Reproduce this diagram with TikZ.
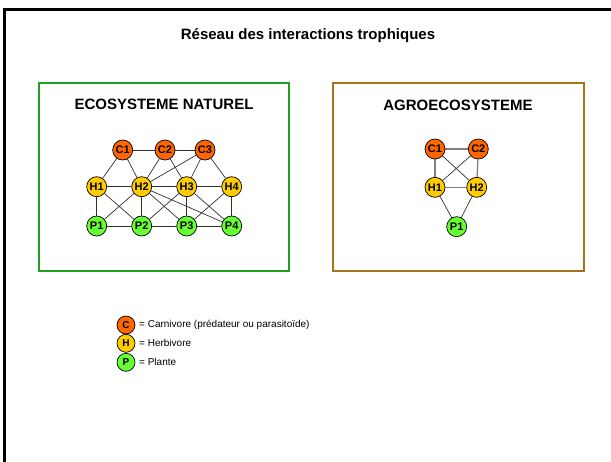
\documentclass[tikz,border=0pt]{standalone}
\usepackage{fontspec}
\setmainfont{Liberation Sans}
\usepackage{xcolor}
\usetikzlibrary{backgrounds}
\definecolor{carni}{HTML}{FF6600}
\definecolor{herbi}{HTML}{FFCC00}
\definecolor{plante}{HTML}{66FF33}
\definecolor{vert}{HTML}{1FA01F}
\definecolor{brun}{HTML}{A8741A}
\definecolor{trait}{HTML}{303030}
\begin{document}
\begin{tikzpicture}[x=1pt,y=-1pt,
    sp/.style={circle,draw=black,line width=0.7pt,inner sep=0pt,minimum size=20pt,
      font=\fontsize{11}{11}\selectfont\bfseries},
    lg/.style={circle,draw=black,line width=0.7pt,inner sep=0pt,minimum size=18pt,
      font=\fontsize{10}{10}\selectfont\bfseries},
    lien/.style={draw=trait,line width=0.7pt},
    lienb/.style={draw=gray,line width=1.3pt}]
  \useasboundingbox (0,0) rectangle (611,461);
  % cadre de la page
  \draw [line width=3pt,line cap=rect] (4.5,470) -- (4.5,9) -- (620,9);
  \node (titre) at (308,36) {\fontsize{15}{15}\selectfont\bfseries R\'eseau des interactions trophiques};
  % les deux cadres
  \draw [vert,line width=2pt] (39,83) rectangle (289,271);
  \draw [brun,line width=2pt] (333,83) rectangle (584,271);
  \node (tnat) at (164,104) {\fontsize{15}{15}\selectfont\bfseries ECOSYSTEME NATUREL};
  \node (tagr) at (458,105) {\fontsize{15}{15}\selectfont\bfseries AGROECOSYSTEME};
  % ecosysteme naturel
  \node [sp,fill=carni]  (c1) at (122.7,150) {C1};
  \node [sp,fill=carni]  (c2) at (165.0,150) {C2};
  \node [sp,fill=carni]  (c3) at (205.0,150) {C3};
  \node [sp,fill=herbi]  (h1) at ( 96.7,186.7) {H1};
  \node [sp,fill=herbi]  (h2) at (141.7,186.7) {H2};
  \node [sp,fill=herbi]  (h3) at (186.7,186.7) {H3};
  \node [sp,fill=herbi]  (h4) at (231.7,186.7) {H4};
  \node [sp,fill=plante] (p1) at ( 96.7,226) {P1};
  \node [sp,fill=plante] (p2) at (141.7,226) {P2};
  \node [sp,fill=plante] (p3) at (186.7,226) {P3};
  \node [sp,fill=plante] (p4) at (231.7,226) {P4};
  % agroecosysteme
  \node [sp,fill=carni]  (ac1) at (435.0,149) {C1};
  \node [sp,fill=carni]  (ac2) at (478.3,149) {C2};
  \node [sp,fill=herbi]  (ah1) at (435.0,187.3) {H1};
  \node [sp,fill=herbi]  (ah2) at (476.7,187.3) {H2};
  \node [sp,fill=plante] (ap1) at (456.7,226.7) {P1};
  % liens, sous les noeuds
  \begin{scope}[on background layer]
    \foreach \a/\b in {c1/c2,c2/c3,c1/h1,c1/h2,c2/h2,c2/h3,c3/h2,c3/h3,c3/h4,
        h1/h2,h2/h3,h3/h4,h1/p1,h1/p2,h2/p1,h2/p2,h2/p3,h2/p4,h3/p2,h3/p3,h3/p4,
        h4/p3,h4/p4,p1/p2,p2/p3,p3/p4}
      \draw [lien] (\a) -- (\b);
    \foreach \a/\b in {ac1/ac2,ac1/ah1,ac2/ah2,ah1/ah2}
      \draw [lienb] (\a) -- (\b);
    \foreach \a/\b in {ac1/ah2,ac2/ah1,ah1/ap1,ah2/ap1}
      \draw [lien] (\a) -- (\b);
  \end{scope}
  % legende
  \node [lg,fill=carni]  (lc) at (126,325) {C};
  \node [lg,fill=herbi]  (lh) at (126,343.3) {H};
  \node [lg,fill=plante] (lp) at (126,362.3) {P};
  \node [anchor=west,inner sep=0pt,font=\fontsize{10}{10}\selectfont] (tc) at (139,325) {= Carnivore (pr\'edateur ou parasito\"ide)};
  \node [anchor=west,inner sep=0pt,font=\fontsize{10}{10}\selectfont] (th) at (139,343.3) {= Herbivore};
  \node [anchor=west,inner sep=0pt,font=\fontsize{10}{10}\selectfont] (tp) at (139,362.3) {= Plante};
\end{tikzpicture}
\end{document}
